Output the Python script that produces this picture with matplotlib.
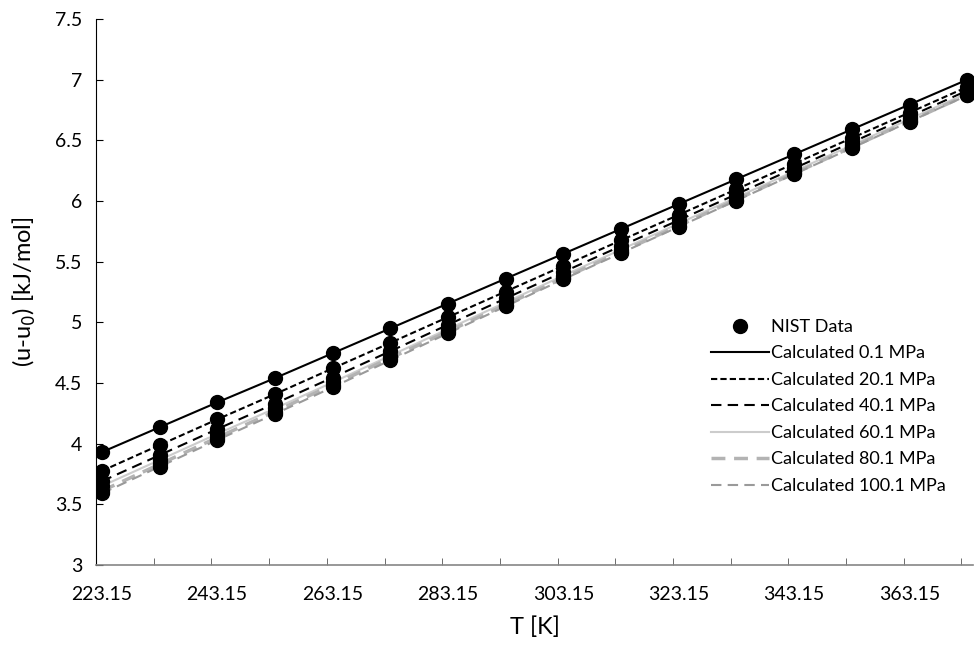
import matplotlib.pyplot as plt

# Temperatures [K]
temps = [223.15, 233.15, 243.15, 253.15, 263.15, 273.15, 283.15, 293.15,
         303.15, 313.15, 323.15, 333.15, 343.15, 353.15, 363.15, 373.15]

# u-u0 [kJ/mol] for each pressure
u_01 = [3.930, 4.135, 4.340, 4.540, 4.745, 4.950, 5.155, 5.360,
        5.565, 5.770, 5.975, 6.180, 6.385, 6.590, 6.795, 7.000]
u_201 = [3.775, 3.988, 4.200, 4.408, 4.620, 4.831, 5.043, 5.254,
         5.465, 5.676, 5.886, 6.097, 6.308, 6.519, 6.729, 6.940]
u_401 = [3.690, 3.905, 4.120, 4.330, 4.545, 4.762, 4.980, 5.197,
         5.415, 5.629, 5.842, 6.056, 6.269, 6.483, 6.696, 6.910]
u_601 = [3.650, 3.865, 4.080, 4.290, 4.505, 4.725, 4.945, 5.165,
         5.385, 5.600, 5.815, 6.030, 6.245, 6.460, 6.675, 6.890]
u_801 = [3.610, 3.830, 4.050, 4.265, 4.485, 4.705, 4.925, 5.145,
         5.365, 5.581, 5.796, 6.012, 6.228, 6.444, 6.659, 6.875]
u_1001 = [3.590, 3.810, 4.030, 4.245, 4.465, 4.687, 4.910, 5.132,
          5.355, 5.571, 5.788, 6.004, 6.221, 6.437, 6.654, 6.870]

label_temps = temps[::2]
y_ticks = [3, 3.5, 4, 4.5, 5, 5.5, 6, 6.5, 7, 7.5]

plt.rcParams['font.family'] = ['Lato', 'DejaVu Sans']

fig = plt.figure(figsize=(9.78, 6.46), dpi=100)
ax = fig.add_axes([0.0982, 0.1254, 0.8967, 0.8452])

series = [u_01, u_201, u_401, u_601, u_801, u_1001]

# NIST data points
for i, s in enumerate(series):
    ax.plot(temps, s, 'o', color='black', markersize=10, zorder=5,
            label='NIST Data' if i == 0 else None)

# calculated lines
ax.plot(temps, u_01, color='black', lw=1.5, label='Calculated 0.1 MPa', zorder=3)
ax.plot(temps, u_201, color='black', lw=1.5, dashes=(3, 1.5), label='Calculated 20.1 MPa', zorder=3)
ax.plot(temps, u_401, color='black', lw=1.5, dashes=(5, 3), label='Calculated 40.1 MPa', zorder=3)
ax.plot(temps, u_601, color='#cccccc', lw=1.5, label='Calculated 60.1 MPa', zorder=3)
ax.plot(temps, u_801, color='#b3b3b3', lw=2.5, dashes=(4, 2.5), label='Calculated 80.1 MPa', zorder=3)
ax.plot(temps, u_1001, color='#9a9a9a', lw=1.5, dashes=(5, 3), label='Calculated 100.1 MPa', zorder=3)

ax.set_xlim(222.15, 374.15)
ax.set_ylim(3, 7.5)

ax.set_xticks(label_temps)
ax.set_xticklabels(['%.2f' % t for t in label_temps])
ax.set_xticks([t - 1.0 for t in temps], minor=True)
ax.tick_params(axis='x', which='major', length=0, pad=15, labelsize=14)
ax.tick_params(axis='x', which='minor', length=5, direction='in', color='#555555')

ax.set_yticks(y_ticks)
ax.set_yticklabels(['%g' % v for v in y_ticks])
ax.tick_params(axis='y', length=5, direction='in', labelsize=14, pad=10)

ax.spines['top'].set_visible(False)
ax.spines['right'].set_visible(False)
ax.spines['bottom'].set_color('#868686')
ax.spines['bottom'].set_linewidth(1.2)
ax.spines['left'].set_color('black')

ax.set_xlabel('T [K]', fontsize=17, labelpad=10)
ax.set_ylabel('(u-u$_0$) [kJ/mol]', fontsize=17, labelpad=12)

ax.legend(loc='upper left', bbox_to_anchor=(702 / 978, 1 - 310 / 646),
          bbox_transform=fig.transFigure, frameon=False, fontsize=13,
          handlelength=3.2, handletextpad=0.1, labelspacing=0.58,
          borderpad=0)

fig.savefig('out.png', dpi=100)
